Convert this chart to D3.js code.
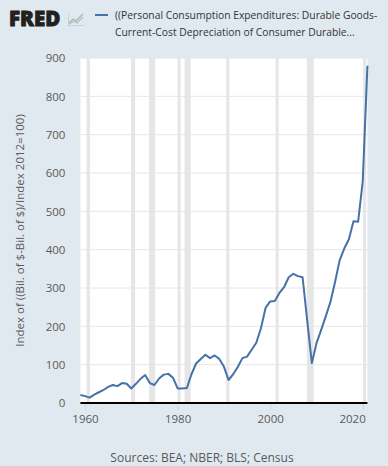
<!DOCTYPE html>
<html>
<head>
<meta charset="utf-8">
<script src="https://cdn.jsdelivr.net/npm/d3@7"></script>
<style>
  html, body { margin: 0; padding: 0; background: #e1e9f0; }
  svg { display: block; font-family: "Open Sans", sans-serif; }
</style>
</head>
<body>
<div id="chart"></div>
<script>
// annual observations, 1959 - 2021
var years = d3.range(1959, 2022);
var values = [
  21, 18, 14, 22, 28, 34, 42, 47, 44, 52,
  50, 38, 50, 63, 73, 52, 47, 64, 74, 76,
  66, 38, 38, 39, 75, 103, 115, 126, 117, 124,
  115, 95, 60, 75, 94, 117, 121, 139, 157, 195,
  248, 265, 266, 287, 302, 328, 337, 331, 328, 215,
  104, 156, 190, 226, 263, 315, 372, 403, 427, 474,
  473, 579, 880
];
var recessionStarts = [1960.33, 1969.92, 1973.83, 1980.0, 1981.5, 1990.5, 2001.17, 2007.92, 2020.08];
var recessionEnds   = [1961.08, 1970.83, 1975.17, 1980.5, 1982.83, 1991.17, 2001.83, 2009.42, 2020.25];
var yTicks = [0, 100, 200, 300, 400, 500, 600, 700, 800, 900];
var xTicks = [1960, 1980, 2000, 2020];
var legendLines = [
  '((Personal Consumption Expenditures: Durable Goods-',
  'Current-Cost Depreciation of Consumer Durable...'
];
var yTitle = 'Index of ((Bil. of $-Bil. of $)/Index 2012=100)';
var sourceText = 'Sources: BEA; NBER; BLS; Census';

;(function (window, document, undefined) {

  'use strict';

  var width = 388, height = 466;
  var plot = { left: 80.4, right: 367.4, top: 58, bottom: 403 };

  var svg = d3.select('#chart').append('svg')
    .attr('width', width)
    .attr('height', height);

  svg.append('rect')
    .attr('width', width).attr('height', height)
    .attr('fill', '#e1e9f0');

  var x = d3.scaleLinear().domain([1959, 2021]).range([plot.left, plot.right]);
  var y = d3.scaleLinear().domain([0, 900]).range([plot.bottom, plot.top]);

  // plot background
  svg.append('rect')
    .attr('x', plot.left).attr('y', plot.top)
    .attr('width', plot.right - plot.left)
    .attr('height', plot.bottom - plot.top)
    .attr('fill', '#ffffff');

  // recession shading
  svg.append('g').selectAll('rect')
    .data(recessionStarts)
    .enter().append('rect')
    .attr('x', function (d) { return x(d); })
    .attr('y', plot.top)
    .attr('width', function (d, i) { return Math.max(3, x(recessionEnds[i]) - x(d)); })
    .attr('height', plot.bottom - plot.top)
    .attr('fill', '#e6e6e6');

  // horizontal grid
  svg.append('g').selectAll('line')
    .data(yTicks.slice(1))
    .enter().append('line')
    .attr('x1', plot.left).attr('x2', plot.right)
    .attr('y1', function (d) { return y(d); })
    .attr('y2', function (d) { return y(d); })
    .attr('stroke', '#e6e6e6')
    .attr('stroke-width', 1);

  // y axis labels
  var yAxis = svg.append('g')
    .attr('transform', 'translate(' + plot.left + ',0)')
    .call(d3.axisLeft(y).tickValues(yTicks).tickSize(0).tickPadding(15));
  yAxis.select('.domain').remove();
  yAxis.selectAll('text')
    .attr('font-size', 11.5)
    .attr('fill', '#595959')
    .attr('font-family', '"Open Sans", sans-serif');

  // x axis
  var xAxis = svg.append('g')
    .attr('transform', 'translate(0,' + plot.bottom + ')')
    .call(d3.axisBottom(x).tickValues(xTicks).tickFormat(d3.format('d')).tickSize(7).tickPadding(5));
  xAxis.select('.domain').remove();
  xAxis.selectAll('line').attr('stroke', '#ccd6eb');
  xAxis.selectAll('text')
    .attr('font-size', 11.5)
    .attr('fill', '#595959')
    .attr('font-family', '"Open Sans", sans-serif');
  xAxis.selectAll('text')
    .filter(function (d) { return d === 2020; })
    .attr('text-anchor', 'end')
    .attr('dx', '2.5');

  // series line
  var line = d3.line()
    .x(function (d, i) { return x(years[i]); })
    .y(function (d) { return y(d); });

  svg.append('path')
    .datum(values)
    .attr('d', line)
    .attr('fill', 'none')
    .attr('stroke', '#4572a7')
    .attr('stroke-width', 2)
    .attr('stroke-linejoin', 'round');

  // baseline
  svg.append('line')
    .attr('x1', plot.left).attr('x2', plot.right)
    .attr('y1', plot.bottom).attr('y2', plot.bottom)
    .attr('stroke', '#000')
    .attr('stroke-width', 2);

  // y axis title
  svg.append('text')
    .attr('transform', 'translate(24,' + ((plot.top + plot.bottom) / 2) + ') rotate(-90)')
    .attr('text-anchor', 'middle')
    .attr('font-size', 11.5)
    .attr('fill', '#595959')
    .text(yTitle);

  // FRED logo
  svg.append('text')
    .attr('x', 9).attr('y', 25.5)
    .attr('font-family', '"Open Sans", sans-serif')
    .attr('font-weight', 800)
    .attr('font-size', 20.5)
    .attr('fill', '#212121')
    .attr('stroke', '#212121')
    .attr('stroke-width', 0.9)
    .text('FRED');
  var icon = svg.append('g').attr('transform', 'translate(68,12)');
  icon.append('path')
    .attr('d', 'M1,11 L5,7 L8,9 L15,2')
    .attr('fill', 'none').attr('stroke', '#9fc096').attr('stroke-width', 1.3);
  icon.append('path')
    .attr('d', 'M1,12 L6,9 L9,11 L15,5')
    .attr('fill', 'none').attr('stroke', '#a9bdd2').attr('stroke-width', 1.3);
  icon.append('path')
    .attr('d', 'M0,13.5 L16,13.5 M0.5,13.5 L0.5,1')
    .attr('fill', 'none').attr('stroke', '#c2ccd6').attr('stroke-width', 0.8);

  // legend
  svg.append('line')
    .attr('x1', 95).attr('x2', 108)
    .attr('y1', 15).attr('y2', 15)
    .attr('stroke', '#4572a7')
    .attr('stroke-width', 2);
  svg.append('g').selectAll('text')
    .data(legendLines)
    .enter().append('text')
    .attr('x', 115)
    .attr('y', function (d, i) { return 19 + i * 17; })
    .attr('font-size', 10.3)
    .attr('fill', '#333333')
    .text(function (d) { return d; });

  // sources
  svg.append('text')
    .attr('x', 202).attr('y', 462)
    .attr('text-anchor', 'middle')
    .attr('font-size', 12)
    .attr('fill', '#595959')
    .text(sourceText);

})(window, document);
</script>
</body>
</html>
